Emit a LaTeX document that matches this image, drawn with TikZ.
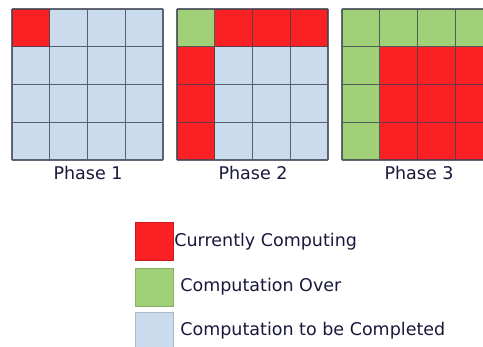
\documentclass[tikz,border=0pt]{standalone}
\usepackage{fontspec}
\setmainfont{DejaVu Sans}
\definecolor{cellred}{RGB}{250, 32, 36}
\definecolor{cellgreen}{RGB}{160, 208, 120}
\definecolor{cellblue}{RGB}{203, 219, 238}
\definecolor{gridline}{RGB}{60, 66, 80}
\definecolor{labelink}{RGB}{25, 25, 60}
\usepackage{tikz}
\usetikzlibrary{positioning}

\begin{document}
\begin{tikzpicture}[x=1pt, y=1pt, font=\fontsize{17.5}{20}\selectfont, text=labelink]
  \useasboundingbox (0, 0) rectangle (483, 347);
  \clip (0, 0) rectangle (483, 347);
  \fill[white] (0, 0) rectangle (483, 347);

  % Phase 1: only the corner block
  \begin{scope}[shift={(12, 187)}]
    \fill[cellblue] (0, 0) rectangle (151, 151);
    \fill[cellred] (0, 113.25) rectangle (37.75, 151);
    \draw[gridline, opacity=0.8, line width=1.1pt, step=37.75pt] (0, 0) grid (151.1, 151.1);
  \end{scope}
  \node (phaseOne) at (88, 174) {Phase 1};

  % Phase 2: first row and column
  \begin{scope}[shift={(177, 187)}]
    \fill[cellblue] (0, 0) rectangle (151, 151);
    \fill[cellred] (0, 113.25) rectangle (151, 151);
    \fill[cellred] (0, 0) rectangle (37.75, 151);
    \fill[cellgreen] (0, 113.25) rectangle (37.75, 151);
    \draw[gridline, opacity=0.8, line width=1.1pt, step=37.75pt] (0, 0) grid (151.1, 151.1);
  \end{scope}
  \node (phaseTwo) at (253, 174) {Phase 2};

  % Phase 3: trailing sub-matrix
  \begin{scope}[shift={(342, 187)}]
    \fill[cellred] (0, 0) rectangle (151, 151);
    \fill[cellgreen] (0, 113.25) rectangle (151, 151);
    \fill[cellgreen] (0, 0) rectangle (37.75, 151);
    \draw[gridline, opacity=0.8, line width=1.1pt, step=37.75pt] (0, 0) grid (151.1, 151.1);
  \end{scope}
  \node (phaseThree) at (419, 174) {Phase 3};

  % Legend
  \node[minimum size=38pt, inner sep=0pt, fill=cellred, draw=cellred!80!black] (keyNow) at (154, 105.5) {};
  \node[inner sep=0pt, right=1pt of keyNow] (txtNow) {Currently Computing};
  \node[minimum size=38pt, inner sep=0pt, fill=cellgreen, draw=cellgreen!85!black] (keyOver) at (154, 60) {};
  \node[inner sep=0pt, right=7pt of keyOver] (txtOver) {Computation Over};
  \node[minimum size=38pt, inner sep=0pt, fill=cellblue, draw=cellblue!85!black] (keyLeft) at (154, 16) {};
  \node[inner sep=0pt, right=7pt of keyLeft] (txtLeft) {Computation to be Completed};
\end{tikzpicture}
\end{document}
